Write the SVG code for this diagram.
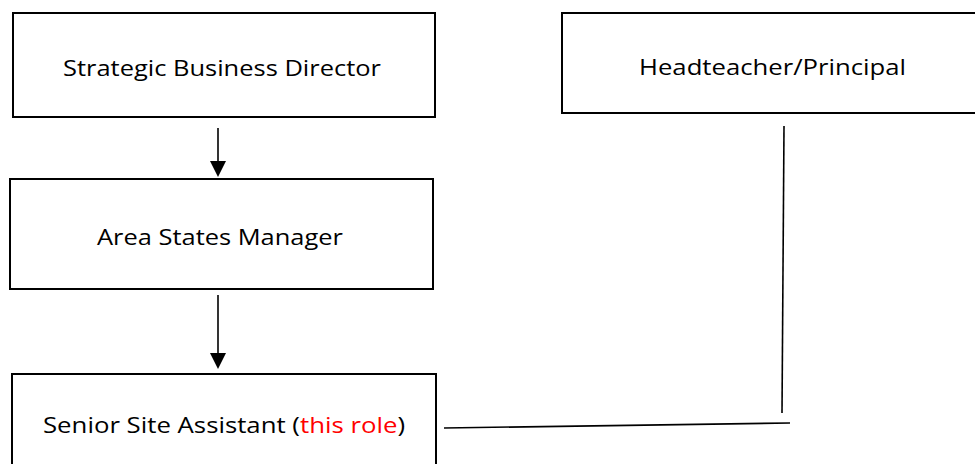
<svg xmlns="http://www.w3.org/2000/svg" width="975" height="464" viewBox="0 0 975 464">
<style>
.box{fill:#fff;stroke:#000;stroke-width:2}
.lbl{font-family:"Open Sans","Liberation Sans",Arial,sans-serif;font-size:21px;fill:#000}
.red{fill:#ff0000}
.con{stroke:#000;stroke-width:1.6;fill:none}
.head{fill:#000}
</style>
<rect width="975" height="464" fill="#fff"/>
<g id="node-sbd">
<rect class="box" x="13" y="13" width="422" height="104"/>
<text class="lbl" x="63" y="76" textLength="318" lengthAdjust="spacingAndGlyphs">Strategic Business Director</text>
</g>
<g id="node-head">
<rect class="box" x="562" y="13" width="420" height="100"/>
<text class="lbl" x="639" y="75" textLength="267" lengthAdjust="spacingAndGlyphs">Headteacher/Principal</text>
</g>
<g id="node-asm">
<rect class="box" x="10" y="179" width="423" height="110"/>
<text class="lbl" x="97" y="245" textLength="246" lengthAdjust="spacingAndGlyphs">Area States Manager</text>
</g>
<g id="node-ssa">
<rect class="box" x="12" y="374" width="424" height="100"/>
<text class="lbl" x="43" y="433" textLength="362" lengthAdjust="spacingAndGlyphs">Senior Site Assistant (<tspan class="red">this role</tspan>)</text>
</g>
<g id="connectors">
<line class="con" x1="218" y1="128" x2="218" y2="162"/>
<path class="head" d="M210,161 L226,161 L218,177 Z"/>
<line class="con" x1="218" y1="295" x2="218" y2="354"/>
<path class="head" d="M210,353 L226,353 L218,369 Z"/>
<line class="con" x1="784" y1="126" x2="782" y2="413"/>
<line class="con" x1="444" y1="428" x2="790" y2="423"/>
</g>
</svg>
